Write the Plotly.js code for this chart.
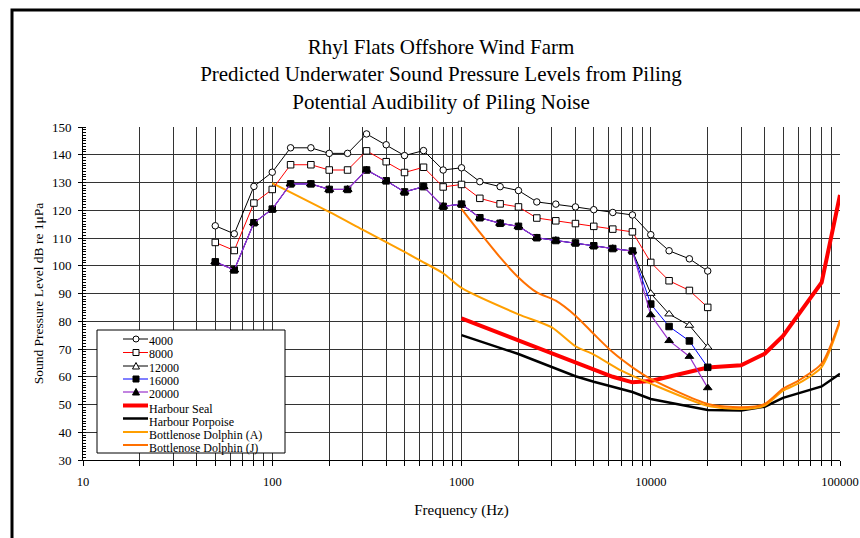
<!DOCTYPE html>
<html><head><meta charset="utf-8">
<script src="https://cdn.plot.ly/plotly-3.0.1.min.js"></script>
<style>html,body{margin:0;padding:0;background:#fff}#chart{width:860px;height:538px}</style>
</head><body><div id="chart"></div>
<script>
// ---- data ----
const freqPiling = [50,63,80,100,125,160,200,250,315,400,500,630,800,1000,1250,1600,2000,2500,3150,4000,5000,6300,8000,10000,12500,16000,20000];
const spl4000  = [114.4,111.5,128.6,133.7,142.5,142.5,140.5,140.5,147.5,143.6,139.7,141.5,134.5,135.3,130.3,128.5,127.1,123.0,122.2,121.2,120.2,119.2,118.3,111.2,105.4,102.5,98.1];
const spl8000  = [108.4,105.5,122.6,127.5,136.4,136.4,134.5,134.5,141.4,137.5,133.6,135.5,128.4,129.3,124.3,122.3,121.2,117.2,116.2,115.2,114.2,113.2,112.2,101.2,94.6,91.1,85.0];
const spl12000 = [101.4,98.5,115.5,120.4,129.5,129.5,127.5,127.5,134.5,130.6,126.6,128.5,121.4,122.2,117.3,115.3,114.2,110.1,109.1,108.2,107.2,106.2,105.3,90.0,82.6,78.5,70.6];
const spl16000 = [101.4,98.5,115.5,120.4,129.5,129.5,127.5,127.5,134.5,130.6,126.6,128.5,121.4,122.2,117.3,115.3,114.2,110.1,109.1,108.2,107.2,106.2,105.3,86.2,78.1,72.9,63.4];
const spl20000 = [101.4,98.5,115.5,120.4,129.5,129.5,127.5,127.5,134.5,130.6,126.6,128.5,121.4,122.2,117.3,115.3,114.2,110.1,109.1,108.2,107.2,106.2,105.3,82.3,73.0,67.3,56.0];

const freqSeal = [1000,2000,4000,5000,6300,8000,10000,20000,30000,40000,50000,80000,100000];
const seal     = [81,73,65.3,62.8,60,58,58.5,63.3,64.1,68.3,74.7,94,125.5];
const freqPorpoise = [1000,2000,4000,5000,8000,10000,20000,30000,40000,50000,80000,100000];
const porpoise     = [75,68.2,60.2,58.2,54.5,52,48,47.8,49.2,52.4,56.5,61.1];
const freqDolphinA = [100,200,300,500,600,800,1000,2000,3000,4000,5000,7000,10000,20000,30000,40000,50000,60000,80000,100000];
const dolphinA     = [129.8,119.4,113,105,102,97.3,92,82.5,77.8,71,68,62.2,57.5,49.5,48.4,49.6,55,57.5,63.5,79.8];
const freqDolphinJ = [1000,1250,1600,2000,2500,3150,4000,5000,6300,8000,10000,20000,30000,40000,50000,60000,80000,100000];
const dolphinJ     = [120.5,112,103,95.8,90.4,87.4,82,75.4,68.8,63.4,59.2,50.2,49,50.2,55.7,58.5,64.7,80.4];

const seriesNames = ['4000','8000','12000','16000','20000','Harbour Seal','Harbour Porpoise','Bottlenose Dolphin (A)','Bottlenose Dolphin (J)'];
const xTickVals = [10,100,1000,10000,100000];
const xTickText = ['10','100','1000','10000','100000'];
const titleLines = ['Rhyl Flats Offshore Wind Farm','Predicted Underwater Sound Pressure Levels from Piling','Potential Audibility of Piling Noise'];

// ---- styles ----
const FONT = 'Liberation Serif, Times New Roman, serif';
const styles = {
  '4000':  {color:'#000000', width:1, symbol:'circle', fill:'#ffffff', size:6.5},
  '8000':  {color:'#FF0000', width:1, symbol:'square', fill:'#ffffff', size:6.5},
  '12000': {color:'#000000', width:1, symbol:'triangle-up', fill:'#ffffff', size:7.5},
  '16000': {color:'#0000FF', width:1, symbol:'square', fill:'#000000', size:6.5},
  '20000': {color:'#9933CC', width:1.2, symbol:'triangle-up', fill:'#000000', size:7.5},
  'Harbour Seal': {color:'#FF0000', width:4},
  'Harbour Porpoise': {color:'#000000', width:2.5},
  'Bottlenose Dolphin (A)': {color:'#FF9F00', width:2},
  'Bottlenose Dolphin (J)': {color:'#FF7000', width:2}
};

function audTrace(name, x, y, spline){
  const s = styles[name];
  return {type:'scatter', mode:'lines', name:name, x:x, y:y, showlegend:false,
    line:{color:s.color, width:s.width, shape: spline ? 'spline' : 'linear', smoothing:0.7}};
}
function pilTrace(name, y){
  const s = styles[name];
  return {type:'scatter', mode:'lines+markers', name:name, x:freqPiling, y:y, showlegend:false,
    line:{color:s.color, width:s.width},
    marker:{symbol:s.symbol, size:s.size, color:s.fill, line:{color:'#000', width:1}}};
}

const traces = [
  audTrace('Harbour Seal', freqSeal, seal, false),
  audTrace('Harbour Porpoise', freqPorpoise, porpoise, false),
  audTrace('Bottlenose Dolphin (A)', freqDolphinA, dolphinA, true),
  audTrace('Bottlenose Dolphin (J)', freqDolphinJ, dolphinJ, true),
  pilTrace('4000', spl4000),
  pilTrace('8000', spl8000),
  pilTrace('12000', spl12000),
  pilTrace('16000', spl16000),
  pilTrace('20000', spl20000)
];

// ---- layout geometry ----
const W = 860, H = 538;
const M = {l:83, r:20, t:127, b:78};
const PW = W - M.l - M.r, PH = H - M.t - M.b;
const px = v => (v - M.l) / PW;          // pixel -> paper x
const py = v => (H - M.b - v) / PH;      // pixel -> paper y

const minorX = [];
for (let d = 10; d < 100000; d *= 10) for (let k = 2; k <= 9; k++) minorX.push(k*d);

const shapes = [];
const annotations = [];
// outer frame (left and top edges visible)
shapes.push({type:'path', xref:'paper', yref:'paper', layer:'above',
  path:`M ${px(12)},${py(560)} L ${px(12)},${py(10)} L ${px(880)},${py(10)}`,
  line:{color:'#000', width:3}});
// legend box
shapes.push({type:'rect', xref:'paper', yref:'paper', layer:'above',
  x0:px(97), x1:px(285), y0:py(453), y1:py(330), fillcolor:'#fff', line:{color:'#000', width:1}});
const rowY = [339,352.5,366,379,392,405.5,418.5,432,445];
seriesNames.forEach((nm, i) => {
  const s = styles[nm];
  const y = rowY[i];
  shapes.push({type:'line', xref:'paper', yref:'paper', layer:'above',
    x0:px(123), x1:px(148), y0:py(y), y1:py(y), line:{color:s.color, width:s.width}});
  const cx = 136, r = 3;
  if (s.symbol === 'circle') {
    shapes.push({type:'circle', xref:'paper', yref:'paper', layer:'above',
      x0:px(cx-r), x1:px(cx+r), y0:py(y+r), y1:py(y-r), fillcolor:s.fill, line:{color:'#000', width:1}});
  } else if (s.symbol === 'square') {
    shapes.push({type:'rect', xref:'paper', yref:'paper', layer:'above',
      x0:px(cx-r), x1:px(cx+r), y0:py(y+r), y1:py(y-r), fillcolor:s.fill, line:{color:'#000', width:1}});
  } else if (s.symbol === 'triangle-up') {
    shapes.push({type:'path', xref:'paper', yref:'paper', layer:'above',
      path:`M ${px(cx)},${py(y-3.5)} L ${px(cx+3.5)},${py(y+3)} L ${px(cx-3.5)},${py(y+3)} Z`,
      fillcolor:s.fill, line:{color:'#000', width:1}});
  }
  annotations.push({xref:'paper', yref:'paper', x:px(147), y:py(y + (i < 5 ? 1.5 : 3)),
    xanchor:'left', yanchor:'middle', showarrow:false, text:nm,
    font:{family:FONT, size:12, color:'#000'}});
});

const layout = {
  width:W, height:H,
  margin:M,
  paper_bgcolor:'#fff', plot_bgcolor:'#fff',
  showlegend:false,
  font:{family:FONT, color:'#000'},
  title:{text:titleLines.join('<br>'), font:{family:FONT, size:21, color:'#000'},
    xref:'container', x:441/W, xanchor:'center', yref:'container', y:1-54/H, yanchor:'top'},
  xaxis:{type:'log', range:[1,5], tickmode:'array', tickvals:xTickVals, ticktext:xTickText,
    showgrid:true, gridcolor:'#333', gridwidth:1,
    ticks:'outside', ticklen:5, tickcolor:'#000', ticklabelstandoff:5,
    showline:true, linecolor:'#000', linewidth:1, zeroline:false,
    tickfont:{family:FONT, size:12.5, color:'#000'},
    minor:{tickmode:'array', tickvals:minorX, ticks:'outside', ticklen:5, tickcolor:'#000', showgrid:true, gridcolor:'#333', gridwidth:1},
    title:{text:'Frequency (Hz)', font:{family:FONT, size:15, color:'#000'}, standoff:16}},
  yaxis:{range:[30,150], dtick:10, tick0:0, showgrid:true, gridcolor:'#333', gridwidth:1,
    ticks:'outside', ticklen:4, tickcolor:'#000', ticklabelstandoff:4,
    showline:true, linecolor:'#000', linewidth:1, zeroline:false,
    tickfont:{family:FONT, size:13, color:'#000'},
    minor:{dtick:1, ticks:'inside', ticklen:3, tickcolor:'#000', showgrid:false},
    title:{text:'Sound Pressure Level dB re 1μPa', font:{family:FONT, size:13.5, color:'#000'}, standoff:5}},
  shapes:shapes,
  annotations:annotations
};

Plotly.newPlot('chart', traces, layout, {staticPlot:true, displayModeBar:false});
</script></body></html>
